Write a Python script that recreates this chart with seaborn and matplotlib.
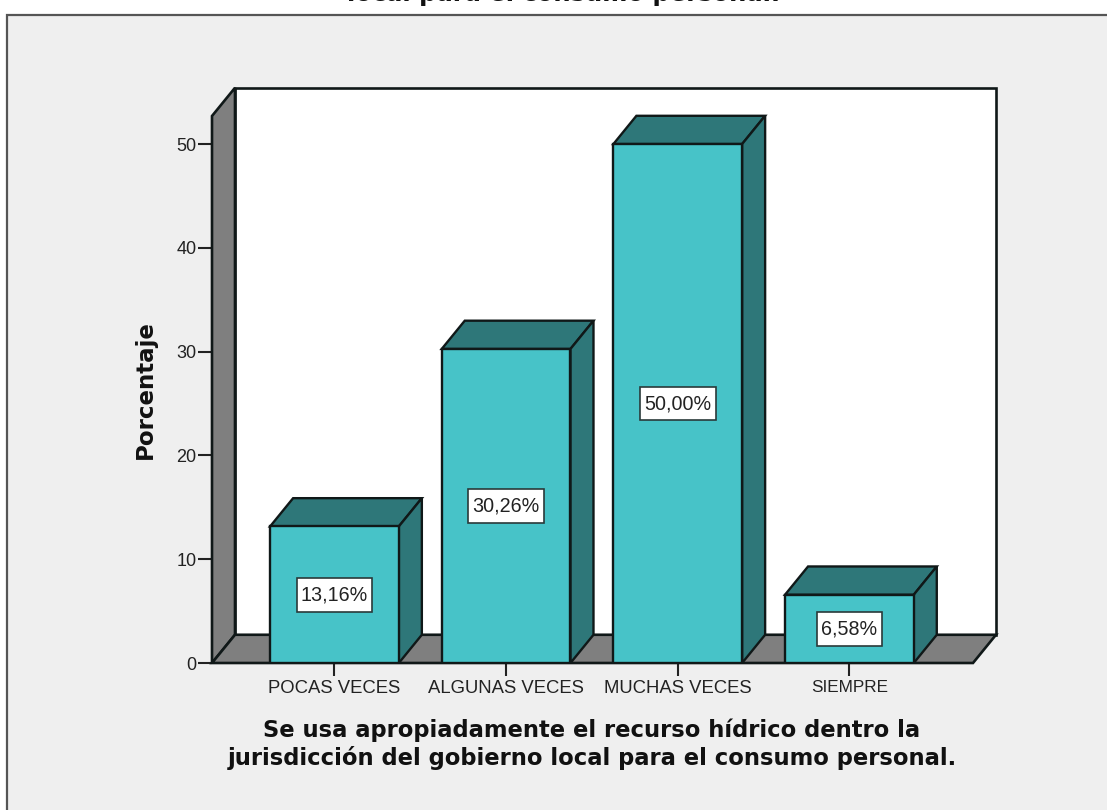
import matplotlib
matplotlib.use('Agg')
import matplotlib.pyplot as plt
from matplotlib.patches import Polygon, Rectangle
from matplotlib.path import Path
import seaborn as sns
import pandas as pd

categories = ['POCAS VECES', 'ALGUNAS VECES', 'MUCHAS VECES', 'SIEMPRE']
porcentaje = [13.16, 30.26, 50.00, 6.58]
y_ticks = [0, 10, 20, 30, 40, 50]
title_text = 'local para el consumo personal.'
x_label = ('Se usa apropiadamente el recurso hídrico dentro la\n'
           'jurisdicción del gobierno local para el consumo personal.')
y_label = 'Porcentaje'

W, H = 1107, 810
TEAL = '#47C3C8'
TEAL_DARK = '#2E7779'
WALL = '#7F7F7F'
PANEL = '#EFEFEF'
EDGE = '#101818'


def label_box(x0, y0, width, height, mutation_size):
    # label boxes are taller than a plain text pad would give
    px, py = 0.22 * mutation_size, 0.37 * mutation_size
    l, b, r, t = x0 - px, y0 - py, x0 + width + px, y0 + height + py
    return Path([(l, b), (r, b), (r, t), (l, t), (l, b)], closed=True)


sns.set_theme(style='white')
plt.rcParams['font.family'] = ['Liberation Sans', 'DejaVu Sans']

fig = plt.figure(figsize=(W / 100, H / 100), dpi=100, facecolor='white')

# grey panel, its right and bottom borders run off the image
fig.add_artist(Rectangle((7 / W, -0.02), 1.02, (H - 15) / H + 0.02, transform=fig.transFigure,
                         facecolor=PANEL, edgecolor='#555555', linewidth=1.6, zorder=-5))

# axes box is the front plane of the SPSS style 3D chart
ax = fig.add_axes([212 / W, 1 - 663 / H, (973 - 212) / W, (663 - 116) / H])
ax.patch.set_alpha(0)

df = pd.DataFrame({'cat': categories, 'pct': porcentaje})
sns.barplot(data=df, x='cat', y='pct', color=TEAL, saturation=1, width=0.75,
            edgecolor=EDGE, linewidth=1.7, ax=ax, zorder=5)

x0, x1 = -0.7136, 3.72
y1 = 52.7
ax.set_xlim(x0, x1)
ax.set_ylim(0, y1)

# depth of the 3D offset, in data units
dx = 23 / 171.67
dy = 2.72

# back wall, left wall and floor
ax.add_patch(Polygon([(x0 + dx, dy), (x1 + dx, dy), (x1 + dx, y1 + dy), (x0 + dx, y1 + dy)],
                     facecolor='white', edgecolor=EDGE, lw=1.9, clip_on=False, zorder=1))
ax.add_patch(Polygon([(x0, 0), (x0, y1), (x0 + dx, y1 + dy), (x0 + dx, dy)],
                     facecolor=WALL, edgecolor=EDGE, lw=1.9, clip_on=False, zorder=2))
ax.add_patch(Polygon([(x0, 0), (x1, 0), (x1 + dx, dy), (x0 + dx, dy)],
                     facecolor=WALL, edgecolor=EDGE, lw=1.9, clip_on=False, zorder=2))

# top and side of every bar, plus the value label
half = 0.75 / 2
for i, v in enumerate(porcentaje):
    l, r = i - half, i + half
    ax.add_patch(Polygon([(l, v), (r, v), (r + dx, v + dy), (l + dx, v + dy)],
                         facecolor=TEAL_DARK, edgecolor=EDGE, lw=1.7, clip_on=False, zorder=4))
    ax.add_patch(Polygon([(r, 0), (r, v), (r + dx, v + dy), (r + dx, dy)],
                         facecolor=TEAL_DARK, edgecolor=EDGE, lw=1.7, clip_on=False, zorder=4))
    ax.text(i, v / 2, f'{v:.2f}%'.replace('.', ','), ha='center', va='center', fontsize=14.2,
            color='#222222', zorder=7,
            bbox=dict(boxstyle=label_box, facecolor='white', edgecolor='#2A3A3A', linewidth=1.2))

sns.despine(ax=ax, left=True, bottom=True, right=True, top=True)
ax.set_yticks(y_ticks)
ax.tick_params(axis='y', left=True, length=10, width=1.5, color='#222222', labelsize=13,
               labelcolor='#222222', pad=1)
ax.tick_params(axis='x', bottom=True, length=9, width=1.5, color='#222222', labelsize=13.3,
               labelcolor='#222222', pad=3.5)
ax.get_xticklabels()[-1].set_fontsize(12.3)
ax.set_xlabel('')
ax.set_ylabel('')

fig.text(145 / W, 1 - 390 / H, y_label, rotation=90, ha='center', va='center',
         fontsize=16.5, fontweight='bold', color='#111111', family=['DejaVu Sans'])
fig.text(592 / W, 1 - 744 / H, x_label, ha='center', va='center', fontsize=16.3,
         fontweight='bold', color='#111111', linespacing=1.2, family=['DejaVu Sans'])
fig.text(564 / W, 1 - (-6) / H, title_text, ha='center', va='center', fontsize=17.5,
         fontweight='bold', color='#111111', family=['DejaVu Sans'])

fig.savefig('out.png', dpi=100)
